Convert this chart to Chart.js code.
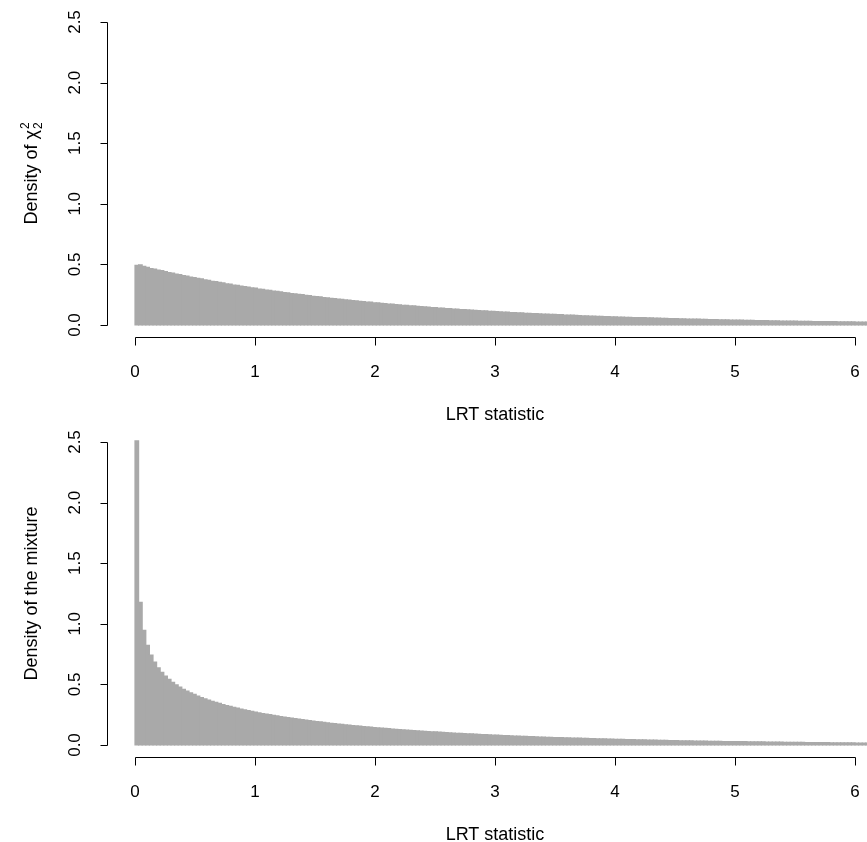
<!DOCTYPE html>
<html>
<head>
<meta charset="utf-8">
<script src="https://cdn.jsdelivr.net/npm/chart.js@4/dist/chart.umd.min.js"></script>
<style>
html, body { margin: 0; padding: 0; background: #fff; }
#wrap { position: relative; width: 867px; height: 842px; }
canvas { position: absolute; left: 0; }
</style>
</head>
<body>
<div id="wrap">
  <canvas id="top" width="867" height="420" style="top:0px"></canvas>
  <canvas id="bottom" width="867" height="422" style="top:420px"></canvas>
</div>
<script>
// histogram bins: width 0.03 starting at 0
var binWidth = 0.03;

// upper panel: density of chi-square(2)
var chisqDensity = [
  .492,.497,.483,.476,.466,.461,.452,.449,.441,.432,
  .428,.420,.416,.407,.403,.395,.391,.384,.380,.372,
  .369,.361,.358,.351,.347,.340,.337,.330,.327,.320,
  .316,.313,.306,.304,.297,.295,.288,.286,.280,.277,
  .273,.267,.265,.259,.257,.252,.250,.244,.243,.237,
  .234,.232,.227,.225,.220,.218,.213,.212,.207,.206,
  .201,.200,.195,.194,.189,.188,.183,.182,.178,.177,
  .173,.172,.168,.167,.163,.162,.158,.157,.153,.152,
  .149,.148,.144,.143,.140,.139,.136,.135,.132,.131,
  .128,.127,.124,.123,.120,.119,.117,.116,.113,.112,
  .110,.109,.107,.106,.103,.103,.100,.100,.097,.097,
  .095,.093,.092,.090,.090,.087,.087,.085,.085,.082,
  .081,.081,.079,.078,.076,.076,.074,.074,.072,.072,
  .070,.070,.068,.068,.066,.065,.064,.064,.062,.062,
  .060,.060,.058,.058,.057,.056,.055,.055,.053,.053,
  .052,.051,.051,.049,.049,.048,.048,.047,.046,.045,
  .045,.044,.043,.043,.042,.041,.041,.040,.040,.039,
  .038,.038,.037,.037,.036,.036,.035,.035,.034,.033,
  .033,.033,.032,.032,.031,.031,.030,.030,.029,.029,
  .029,.028,.028,.027,.027,.026,.026,.025,.025,.025,
  .024,.024,.024,.023
];

// lower panel: density of the mixture
var mixtureDensity = [
  2.51,1.178,.946,.823,.741,.683,.637,.599,.568,.541,
  .517,.496,.477,.460,.445,.430,.417,.404,.392,.381,
  .371,.361,.352,.343,.334,.326,.318,.311,.304,.297,
  .290,.284,.278,.272,.266,.260,.255,.250,.245,.240,
  .235,.230,.226,.221,.217,.213,.209,.205,.201,.197,
  .193,.190,.186,.183,.179,.176,.173,.170,.167,.164,
  .161,.158,.155,.152,.150,.147,.144,.142,.139,.137,
  .135,.132,.130,.128,.125,.123,.121,.119,.117,.115,
  .113,.111,.109,.108,.106,.104,.102,.100,.099,.097,
  .096,.094,.092,.091,.089,.088,.086,.085,.084,.082,
  .081,.080,.078,.077,.076,.074,.073,.072,.071,.070,
  .069,.067,.066,.065,.064,.063,.062,.061,.060,.059,
  .058,.057,.056,.056,.055,.054,.053,.052,.051,.050,
  .050,.049,.048,.047,.047,.046,.045,.044,.044,.043,
  .042,.042,.041,.040,.040,.039,.038,.038,.037,.037,
  .036,.035,.035,.034,.034,.033,.033,.032,.032,.031,
  .031,.030,.030,.029,.029,.028,.028,.028,.027,.027,
  .026,.026,.025,.025,.025,.024,.024,.024,.023,.023,
  .022,.022,.022,.021,.021,.021,.020,.020,.020,.020,
  .019,.019,.019,.018,.018,.018,.017,.017,.017,.017,
  .016,.016,.016,.016
];

var xTicks = [0, 1, 2, 3, 4, 5, 6];
var yTicks = [0, 0.5, 1, 1.5, 2, 2.5];
var yTickLabels = ['0.0', '0.5', '1.0', '1.5', '2.0', '2.5'];
var xTitle = 'LRT statistic';

var FONT = '"Liberation Sans", Arial, Helvetica, sans-serif';
var barColor = '#A9A9A9';

// R style axes: lines only span the tick range, labels parallel to axis
var rAxes = {
  id: 'rAxes',
  afterDraw: function (chart, args, opts) {
    var ctx = chart.ctx;
    var xs = chart.scales.x, ys = chart.scales.y;
    var area = chart.chartArea;
    ctx.save();
    ctx.strokeStyle = '#000';
    ctx.lineWidth = 1;

    // x axis
    var yb = Math.round(area.bottom) - 0.5;
    var xa = Math.round(xs.getPixelForValue(xTicks[0])) + 0.5;
    var xb = Math.round(xs.getPixelForValue(xTicks[xTicks.length - 1])) + 0.5;
    ctx.beginPath();
    ctx.moveTo(xa, yb); ctx.lineTo(xb, yb);
    xTicks.forEach(function (t) {
      var px = Math.round(xs.getPixelForValue(t)) + 0.5;
      ctx.moveTo(px, yb); ctx.lineTo(px, yb + 8);
    });
    // y axis
    var xl = Math.round(area.left) + 0.5;
    var ya = Math.round(ys.getPixelForValue(yTicks[0])) + 0.5;
    var yc = Math.round(ys.getPixelForValue(yTicks[yTicks.length - 1])) + 0.5;
    ctx.moveTo(xl, ya); ctx.lineTo(xl, yc);
    yTicks.forEach(function (t) {
      var py = Math.round(ys.getPixelForValue(t)) + 0.5;
      ctx.moveTo(xl, py); ctx.lineTo(xl - 7, py);
    });
    ctx.stroke();

    ctx.fillStyle = '#000';
    ctx.font = '17px ' + FONT;
    ctx.textAlign = 'center';
    ctx.textBaseline = 'alphabetic';
    xTicks.forEach(function (t) {
      ctx.fillText(String(t), xs.getPixelForValue(t), yb + 39);
    });
    yTicks.forEach(function (t, i) {
      ctx.save();
      ctx.translate(80, ys.getPixelForValue(t));
      ctx.rotate(-Math.PI / 2);
      ctx.fillText(yTickLabels[i], 0, 0);
      ctx.restore();
    });

    ctx.font = '18px ' + FONT;
    ctx.fillText(xTitle, xs.getPixelForValue(3), yb + 82);

    // y title, optionally with stacked super/subscript
    var cy = (area.top + area.bottom) / 2;
    ctx.save();
    ctx.translate(37, cy);
    ctx.rotate(-Math.PI / 2);
    ctx.textAlign = 'left';
    ctx.font = '18px ' + FONT;
    var wMain = ctx.measureText(opts.title).width;
    var wSmall = 0;
    if (opts.sup) {
      ctx.font = '12px ' + FONT;
      wSmall = Math.max(ctx.measureText(opts.sup).width, ctx.measureText(opts.sub).width) + 1;
    }
    var x0 = -(wMain + wSmall) / 2;
    ctx.font = '18px ' + FONT;
    ctx.fillText(opts.title, x0, 0);
    if (opts.sup) {
      ctx.font = '12px ' + FONT;
      ctx.fillText(opts.sup, x0 + wMain + 1, -8);
      ctx.fillText(opts.sub, x0 + wMain + 1, 5);
    }
    ctx.restore();

    ctx.restore();
  }
};

function makeChart(id, values, titleOpts) {
  var canvas = document.getElementById(id);
  var pts = values.map(function (v, i) {
    return { x: binWidth * i + binWidth / 2, y: v };
  });
  return new Chart(canvas.getContext('2d'), {
    type: 'bar',
    data: {
      datasets: [{
        data: pts,
        backgroundColor: barColor,
        borderColor: barColor,
        borderWidth: 0,
        inflateAmount: 0.6,
        barPercentage: 1.0,
        categoryPercentage: 1.0
      }]
    },
    options: {
      responsive: false,
      animation: false,
      devicePixelRatio: 1,
      layout: {
        padding: { left: 107, right: 0, top: 9.4, bottom: canvas.height - 337.6 }
      },
      scales: {
        x: { type: 'linear', min: -0.2333, max: 6.1, offset: false, display: false },
        y: { type: 'linear', min: -0.104, max: 2.604, display: false }
      },
      plugins: {
        legend: { display: false },
        tooltip: { enabled: false },
        rAxes: titleOpts
      }
    },
    plugins: [rAxes]
  });
}

makeChart('top', chisqDensity, { title: 'Density of \u03c7', sup: '2', sub: '2' });
makeChart('bottom', mixtureDensity, { title: 'Density of the mixture' });
</script>
</body>
</html>
